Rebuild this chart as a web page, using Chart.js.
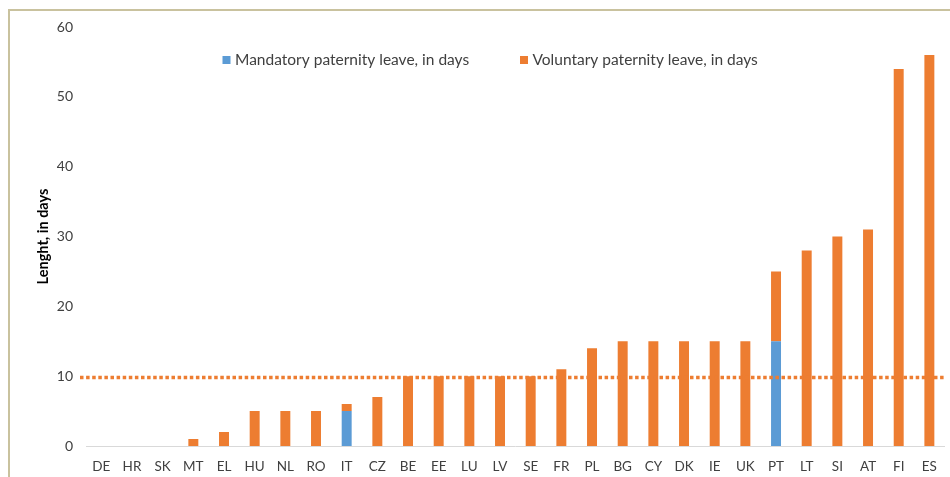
<!DOCTYPE html>
<html>
<head>
<meta charset="utf-8">
<script src="https://cdn.jsdelivr.net/npm/chart.js@4.4.1/dist/chart.umd.min.js"></script>
<style>
  html, body { margin: 0; padding: 0; background: #ffffff; }
  #wrap { position: relative; width: 950px; height: 477px; }
  canvas { display: block; }
</style>
</head>
<body>
<div id="wrap"><canvas id="c" width="950" height="477"></canvas></div>
<script>
const countries = ["DE","HR","SK","MT","EL","HU","NL","RO","IT","CZ","BE","EE","LU","LV","SE","FR","PL","BG","CY","DK","IE","UK","PT","LT","SI","AT","FI","ES"];
const mandatoryDays = [0,0,0,0,0,0,0,0,5,0,0,0,0,0,0,0,0,0,0,0,0,0,15,0,0,0,0,0];
const voluntaryDays = [0,0,0,1,2,5,5,5,1,7,10,10,10,10,10,11,14,15,15,15,15,15,10,28,30,31,54,56];
const averageDays = 9.8;
const yTicks = [0,10,20,30,40,50,60];
const seriesNames = ["Mandatory paternity leave, in days","Voluntary paternity leave, in days"];
const axisTitle = "Lenght, in days";

const BLUE = "#5B9BD5";
const ORANGE = "#ED7D31";
const TEXT = "#404040";
const FONT = "Lato, 'Liberation Sans', Arial, sans-serif";

const framePlugin = {
  id: 'frame',
  beforeDraw(chart) {
    const ctx = chart.ctx;
    ctx.save();
    ctx.strokeStyle = "#c9c29e";
    ctx.lineWidth = 2;
    ctx.beginPath();
    ctx.moveTo(9, 477);
    ctx.lineTo(9, 10);
    ctx.lineTo(950, 10);
    ctx.stroke();
    ctx.restore();
  }
};

const avgLinePlugin = {
  id: 'avgLine',
  afterDatasetsDraw(chart) {
    const ctx = chart.ctx;
    const y = chart.scales.y.getPixelForValue(averageDays);
    const area = chart.chartArea;
    ctx.save();
    ctx.strokeStyle = ORANGE;
    ctx.lineWidth = 3.5;
    ctx.setLineDash([3.5, 2.6]);
    ctx.beginPath();
    ctx.moveTo(area.left - 6, y);
    ctx.lineTo(area.right, y);
    ctx.stroke();
    ctx.restore();
  }
};

const legendPlugin = {
  id: 'floatLegend',
  afterDraw(chart) {
    const ctx = chart.ctx;
    const items = [
      { x: 222.5, color: BLUE, text: seriesNames[0] },
      { x: 520, color: ORANGE, text: seriesNames[1] }
    ];
    ctx.save();
    ctx.font = "15.5px " + FONT;
    ctx.textBaseline = "middle";
    items.forEach(it => {
      ctx.fillStyle = it.color;
      ctx.fillRect(it.x, 56, 8, 8);
      ctx.fillStyle = TEXT;
      ctx.fillText(it.text, it.x + 12.5, 60);
    });
    ctx.restore();
  }
};

new Chart(document.getElementById('c'), {
  type: 'bar',
  data: {
    labels: countries,
    datasets: [
      { label: seriesNames[0], data: mandatoryDays, backgroundColor: BLUE, stack: 's', barPercentage: 0.65, categoryPercentage: 0.5 },
      { label: seriesNames[1], data: voluntaryDays, backgroundColor: ORANGE, stack: 's', barPercentage: 0.65, categoryPercentage: 0.5 }
    ]
  },
  options: {
    responsive: false,
    animation: false,
    devicePixelRatio: 1,
    layout: { padding: { top: 27, right: 4, bottom: 0, left: 0 } },
    plugins: { legend: { display: false }, tooltip: { enabled: false } },
    scales: {
      x: {
        stacked: true,
        afterFit(scale) { scale.height = 31; },
        grid: { display: false, drawTicks: false },
        border: { display: true, color: "#d9d9d9", width: 1 },
        ticks: { color: TEXT, font: { family: FONT, size: 13.5 }, padding: 13, autoSkip: false, maxRotation: 0 }
      },
      y: {
        stacked: true,
        min: 0, max: 60,
        afterBuildTicks(scale) { scale.ticks = yTicks.map(v => ({ value: v })); },
        afterFit(scale) { scale.width = 86; },
        grid: { display: false, drawTicks: false },
        border: { display: false },
        ticks: { color: TEXT, font: { family: FONT, size: 14 }, padding: 13 },
        title: { display: true, text: axisTitle, color: "#000000", font: { family: FONT, size: 14.5, weight: 'bold' }, padding: { top: 35, bottom: 0 } }
      }
    }
  },
  plugins: [framePlugin, avgLinePlugin, legendPlugin]
});
</script>
</body>
</html>
